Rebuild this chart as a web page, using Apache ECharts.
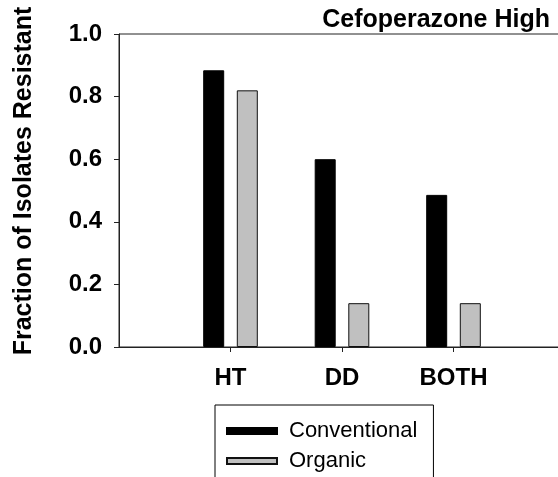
<!DOCTYPE html>
<html>
<head>
<meta charset="utf-8">
<script src="https://cdn.jsdelivr.net/npm/echarts@6/dist/echarts.min.js"></script>
<style>
  html, body { margin: 0; padding: 0; background: #fff; }
  #chart { width: 558px; height: 477px; }
</style>
</head>
<body>
<div id="chart"></div>
<script>
// values
const categories = ["HT", "DD", "BOTH"];
const conventional = [0.884, 0.600, 0.486];
const organic = [0.820, 0.140, 0.140];
const yTicks = [0, 0.2, 0.4, 0.6, 0.8, 1.0];

// empty slots either side so the groups sit where the original puts them
const xSlots = [""].concat(categories, [""]);
const pad = (arr) => [null].concat(arr, [null]);

const chart = echarts.init(document.getElementById("chart"));

const font = "Arial, 'Liberation Sans', sans-serif";

const option = {
  animation: false,
  title: {
    text: "Cefoperazone High",
    right: 8,
    top: 8,
    padding: 0,
    textStyle: { fontFamily: font, fontSize: 25, fontWeight: "bold", color: "#000" }
  },
  graphic: [{
    type: "text",
    x: 24,
    y: 181,
    rotation: Math.PI / 2,
    style: {
      text: "Fraction of Isolates Resistant",
      font: "bold 25px " + font,
      fill: "#000",
      align: "center",
      verticalAlign: "middle"
    }
  }],
  legend: {
    orient: "vertical",
    left: 215,
    top: 405,
    width: 200,
    height: 80,
    padding: [15, 16, 24, 11],
    itemWidth: 50,
    itemHeight: 6,
    itemGap: 8,
    icon: "rect",
    borderColor: "#000",
    borderWidth: 1,
    textStyle: { fontFamily: font, fontSize: 22, color: "#000", padding: [0, 0, 0, 7] },
    data: ["Conventional", "Organic"]
  },
  grid: {
    left: 119,
    top: 34,
    width: 446,
    height: 313,
    outerBoundsMode: "none",
    containLabel: false,
    show: true,
    borderColor: "#222",
    borderWidth: 1
  },
  xAxis: {
    type: "category",
    data: xSlots,
    boundaryGap: false,
    axisLine: { lineStyle: { color: "#222", width: 1 } },
    axisTick: {
      length: 5,
      interval: (i) => i > 0 && i < xSlots.length - 1,
      lineStyle: { color: "#222" }
    },
    axisLabel: {
      margin: 19,
      interval: 0,
      fontFamily: font,
      fontSize: 24,
      fontWeight: "bold",
      color: "#000"
    },
    splitLine: { show: false }
  },
  yAxis: {
    type: "value",
    min: yTicks[0],
    max: yTicks[yTicks.length - 1],
    interval: 0.2,
    axisLine: { show: true, lineStyle: { color: "#222", width: 1 } },
    axisTick: { show: true, length: 5, lineStyle: { color: "#222" } },
    axisLabel: {
      margin: 17,
      fontFamily: font,
      fontSize: 24,
      fontWeight: "bold",
      color: "#000",
      formatter: (v) => v.toFixed(1)
    },
    splitLine: { show: false }
  },
  series: [
    {
      name: "Conventional",
      type: "bar",
      data: pad(conventional),
      barWidth: 21,
      barGap: "60%",
      itemStyle: { color: "#000", borderColor: "#000", borderWidth: 1 }
    },
    {
      name: "Organic",
      type: "bar",
      data: pad(organic),
      barWidth: 21,
      itemStyle: { color: "#c0c0c0", borderColor: "#111", borderWidth: 1 }
    }
  ]
};

option && chart.setOption(option);
</script>
</body>
</html>
